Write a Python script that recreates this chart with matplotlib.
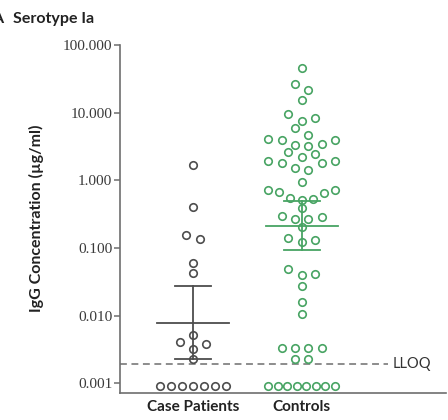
import numpy as np
import matplotlib
matplotlib.use("Agg")
import matplotlib.pyplot as plt
from matplotlib.ticker import FixedLocator, NullLocator

# IgG (µg/ml) per subject; values below the LLOQ are plotted at 0.0009
groups = ["Case Patients", "Controls"]
case_igg = [1.70, 0.41, 0.156, 0.135, 0.061, 0.042,
            0.0052, 0.0041, 0.0038, 0.0032, 0.0023] + [0.0009] * 7
control_igg = [45.7, 26.8, 21.8, 15.5, 9.6, 8.3, 7.6, 5.9, 4.7,
               4.07, 3.97, 3.88, 3.47, 3.35, 3.24, 2.64, 2.47, 2.20,
               1.96, 1.90, 1.83, 1.80, 1.51, 1.43, 0.93,
               0.72, 0.71, 0.68, 0.66, 0.55, 0.53, 0.52, 0.396,
               0.298, 0.286, 0.267, 0.265, 0.203, 0.140, 0.132, 0.122,
               0.0486, 0.0414, 0.040, 0.0275, 0.0161, 0.0106,
               0.0033, 0.0033, 0.0033, 0.0033, 0.0023, 0.0023] + [0.0009] * 8
# geometric mean, lower and upper 95% CI
case_gmc = [0.0079, 0.0023, 0.027]
control_gmc = [0.214, 0.095, 0.50]
lloq = 0.0019
yticks = [0.001, 0.01, 0.1, 1, 10, 100]

gray = "#4d4d4d"
green = "#48a463"
axis_gray = "#6e6e6e"
sans = "Lato"
serif = "Liberation Serif"


def row_offsets(values, span=0.145, gap=0.11, step=0.1224, width=0.613):
    # Prism-style rows: group close values, spread each row symmetrically
    logv = np.log10(values)
    order = np.argsort(logv, kind="stable")
    rows, cur = [], [order[0]]
    for i in order[1:]:
        if logv[i] - logv[cur[0]] > span or logv[i] - logv[cur[-1]] > gap:
            rows.append(cur)
            cur = [i]
        else:
            cur.append(i)
    rows.append(cur)

    offs = np.zeros(len(values))
    for row in rows:
        n = len(row)
        sp = min(step, width / (n - 1)) if n > 1 else 0
        slots = (np.arange(n) - (n - 1) / 2) * sp
        fill = []
        lo, hi = 0, n - 1
        while lo <= hi:
            fill.append(lo)
            if hi != lo:
                fill.append(hi)
            lo += 1
            hi -= 1
        ranked = sorted(row, key=lambda i: -logv[i])
        for i, s in zip(ranked, fill):
            offs[i] = slots[s]
    return offs


fig = plt.figure(figsize=(4.48, 4.2), dpi=100)
ax = fig.add_axes([120 / 448, 27 / 420, 326 / 448, 348 / 420])
ax.set_yscale("log")
ax.set_xlim(0.328, 3.33)
ax.set_ylim(10 ** -3.143, 100)

for pos, vals, gmc, col in [(1, case_igg, case_gmc, gray),
                            (2, control_igg, control_gmc, green)]:
    x = pos + row_offsets(vals)
    ax.plot(x, vals, "o", ms=5.4, mfc="none", mec=col, mew=1.2, zorder=3)
    mean, lo, hi = gmc
    ax.plot([pos, pos], [lo, hi], color=col, lw=1.3, zorder=4)
    ax.plot([pos - 0.166, pos + 0.166], [lo, lo], color=col, lw=1.3, zorder=4)
    ax.plot([pos - 0.166, pos + 0.166], [hi, hi], color=col, lw=1.3, zorder=4)
    ax.plot([pos - 0.331, pos + 0.331], [mean, mean], color=col, lw=1.3, zorder=4)

ax.axhline(lloq, xmin=0, xmax=0.822, color=axis_gray, lw=1.1, ls=(0, (4.5, 3)))
ax.text(0.835, lloq, "LLOQ", transform=ax.get_yaxis_transform(),
        va="center", ha="left", fontsize=10.5, family=sans, color="#333333")

for side in ["top", "right"]:
    ax.spines[side].set_visible(False)
for side in ["left", "bottom"]:
    ax.spines[side].set_color(axis_gray)
    ax.spines[side].set_linewidth(1.2)

ax.yaxis.set_major_locator(FixedLocator(yticks))
ax.yaxis.set_minor_locator(NullLocator())
ax.set_yticklabels([f"{v:.3f}" for v in yticks], family=serif, fontsize=11,
                   color="#3a3a3a")
ax.tick_params(axis="y", length=4, width=1.1, color=axis_gray, pad=1.5)

ax.set_xticks([1, 2])
ax.set_xticklabels(groups, family=sans, fontweight="bold", fontsize=11,
                   color="#222222")
ax.tick_params(axis="x", length=0, pad=5)

fig.text(36 / 448, 202 / 420, "IgG Concentration (µg/ml)", rotation=90,
         ha="center", va="center", family=sans, fontweight="bold",
         fontsize=11.5, color="#222222")
fig.text(13 / 448, 397 / 420, "Serotype Ia", ha="left", va="baseline",
         family=sans, fontweight="bold", fontsize=11.5, color="#222222")
fig.text(3 / 448, 397 / 420, "A", ha="right", va="baseline",
         family=sans, fontweight="bold", fontsize=11.5, color="#222222")

fig.savefig("out.png", dpi=100)
